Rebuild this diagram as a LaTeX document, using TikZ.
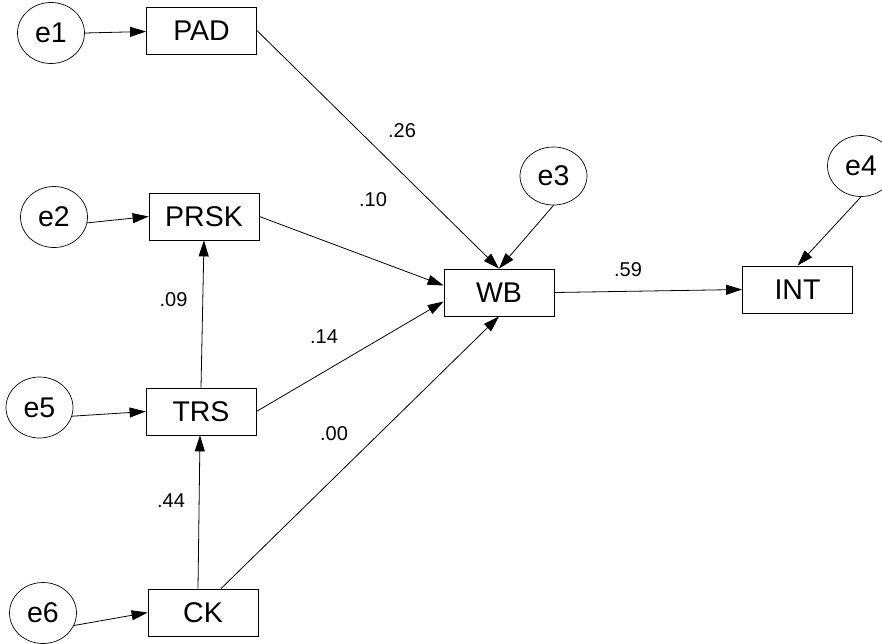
\documentclass[tikz,border=0pt]{standalone}
\usepackage{fontspec}
\setmainfont{Liberation Sans}
\usetikzlibrary{shapes.geometric,arrows.meta}
\newcommand{\nodefnt}{\fontsize{28.5}{33}\selectfont}
\newcommand{\labfnt}{\fontsize{20}{24}\selectfont}
\tikzset{
  box/.style={draw, rectangle, minimum width=110pt, minimum height=47pt, inner sep=0pt, font=\nodefnt, line width=0.8pt},
  err/.style={draw, ellipse, minimum width=67pt, minimum height=61pt, inner sep=0pt, font=\nodefnt, line width=0.7pt},
  lab/.style={font=\labfnt, inner sep=0pt},
  arr/.style={line width=0.8pt, -{Triangle[length=16pt, width=10pt]}}
}
\begin{document}
\begin{tikzpicture}[x=1pt, y=-1pt]
\clip (0,0) rectangle (882,643);
\fill[white] (0,0) rectangle (882,643);
% boxes
\node[box] (PAD) at (201.5,30.5) {PAD};
\node[box] (PRSK) at (204,216.5) {PRSK};
\node[box] (TRS) at (201,411.5) {TRS};
\node[box] (CK) at (203,612.5) {CK};
\node[box] (WB) at (499,292.5) {WB};
\node[box] (INT) at (797.5,289.5) {INT};
% error terms
\node[err] (e1) at (51,33) {e1};
\node[err] (e2) at (54,217) {e2};
\node[err, minimum height=58pt] (e3) at (553.5,176) {e3};
\node[err] (e4) at (861,166) {e4};
\node[err] (e5) at (39.5,407.5) {e5};
\node[err] (e6) at (43,613) {e6};
% error arrows
\draw[arr] (e1.east) -- ([yshift=-1pt]PAD.west);
\draw[arr] (e2.-10) -- (PRSK.west);
\draw[arr] (e5.-15) -- (TRS.west);
\draw[arr] (e6.-22) -- (CK.west);
\draw[arr] (e3.south) -- (WB.north);
\draw[arr] (e4.south) -- (INT.north);
% structural paths
\draw[arr] (PAD.east) -- (WB.north);
\draw[arr] (PRSK.east) -- ([yshift=7pt]WB.west);
\draw[arr] (TRS.east) -- ([yshift=-9pt]WB.west);
\draw[arr] ([xshift=18pt]CK.north) -- (WB.south);
\draw[arr] (TRS.north) -- (PRSK.south);
\draw[arr] ([xshift=-5pt]CK.north) -- ([xshift=-1pt]TRS.south);
\draw[arr] (WB.east) -- (INT.west);
% labels
\node[lab] (l26) at (402,131) {.26};
\node[lab] (l10) at (373,200) {.10};
\node[lab] (l09) at (173.5,299.5) {.09};
\node[lab] (l14) at (324,336.5) {.14};
\node[lab] (l00) at (334,434) {.00};
\node[lab] (l44) at (171,501) {.44};
\node[lab] (l59) at (628,269.5) {.59};
\end{tikzpicture}
\end{document}
